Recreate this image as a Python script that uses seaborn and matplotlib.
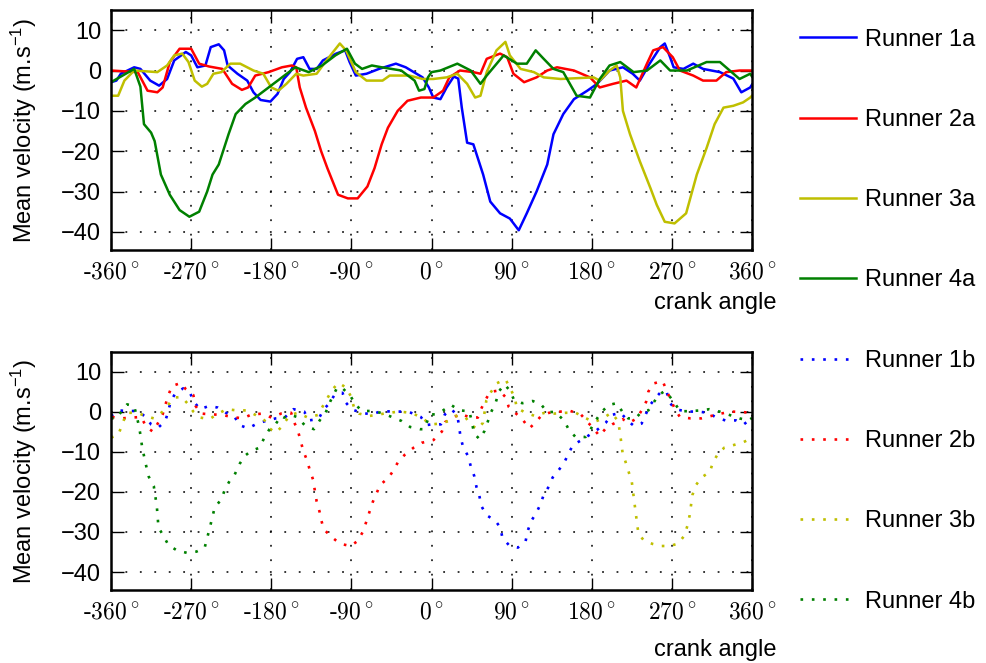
import pandas as pd
import matplotlib
matplotlib.use("Agg")
import matplotlib.pyplot as plt
import seaborn as sns

# ---------------- data ----------------
runners_a = ["Runner 1a", "Runner 2a", "Runner 3a", "Runner 4a"]
runners_b = ["Runner 1b", "Runner 2b", "Runner 3b", "Runner 4b"]
colors = ["#0000ff", "#ff0000", "#bfbf00", "#008000"]
xticks = [-360, -270, -180, -90, 0, 90, 180, 270, 360]
yticks = [-40, -30, -20, -10, 0, 10]

# top panel (solid lines)
angle_1a = [-360, -354, -349, -334, -327, -316, -306, -297, -289, -276, -270, -263, -254, -248, -239, -233,
            -229, -218, -207, -200, -192, -181, -173, -166, -159, -151, -144, -137, -129, -122, -107, -97,
            -92, -85, -73, -59, -40, -29, -10, -3, 2, 10, 17, 25, 30, 34, 40, 47, 58, 66, 77, 88, 98, 107,
            118, 130, 137, 148, 160, 175, 186, 200, 215, 226, 234, 245, 257, 262, 268, 272, 283, 294, 305,
            324, 339, 348, 358, 360]
vel_1a = [-2.9, -2.5, -0.8, 0.8, 0.4, -2.5, -3.75, -2.1, 2.5, 4.6, 3.75, 0.8, 1.25, 5.8, 6.5, 5.0,
          1.25, -0.8, -2.5, -5.4, -7.3, -7.7, -5.8, -2.1, -0.4, 2.9, 3.3, 0.4, 0.4, 2.5, 4.2, 5.0,
          2.1, -1.25, -0.8, 0.4, 1.7, 0.8, -1.7, -4.2, -6.7, -7.1, -4.2, -1.5, -2.0, -9.2, -17.9, -18.3,
          -25.8, -32.5, -35.4, -36.7, -39.6, -35.4, -30.0, -23.3, -15.8, -10.8, -7.1, -5.0, -3.3, 0.0,
          0.8, -0.8, -2.5, 1.7, 5.8, 6.7, 3.3, 0.8, 0.4, 1.7, 0.4, -0.4, -2.0, -5.4, -4.2, -3.5]

angle_2a = [-360, -330, -319, -308, -302, -294, -283, -270, -261, -250, -235, -224, -213, -206, -198, -183,
            -168, -157, -152, -148, -141, -131, -124, -117, -105, -94, -83, -72, -64, -56, -49, -38, -27,
            -12, 2, 13, 20, 32, 47, 55, 62, 77, 85, 92, 104, 118, 130, 141, 160, 178, 189, 204, 219, 230,
            242, 249, 260, 271, 279, 294, 305, 320, 331, 346, 360]
vel_2a = [0.0, -0.4, -5.0, -5.4, -4.2, 2.1, 5.4, 5.4, 1.7, 1.0, 0.4, -3.3, -4.8, -4.2, -1.25, -0.4,
          0.8, 1.25, 0.8, -4.2, -9.2, -15.0, -20.0, -24.2, -30.8, -31.7, -31.7, -28.75, -24.2, -18.3,
          -14.2, -10.0, -7.5, -6.7, -6.7, -5.0, -1.7, 0.0, -0.4, -0.8, 2.9, 4.2, 3.3, -0.8, -2.9, -1.7,
          0.0, 0.8, 0.0, -1.7, -4.2, -3.3, -2.5, -4.2, 1.7, 5.0, 5.8, 3.3, 0.0, -1.25, -2.5, -2.5,
          -0.4, 0.0, 0.0]

angle_3a = [-360, -352, -345, -334, -308, -297, -289, -280, -273, -266, -258, -252, -245, -236, -226, -215,
            -200, -189, -180, -172, -163, -152, -144, -129, -118, -103, -96, -85, -73, -55, -47, -25, -10,
            2, 17, 29, 40, 49, 55, 62, 73, 83, 88, 100, 115, 126, 145, 182, 189, 200, 208, 212, 215, 223,
            234, 246, 253, 262, 273, 286, 298, 309, 318, 328, 339, 350, 358, 360]
vel_3a = [-6.25, -6.25, -2.5, 0.0, -0.4, 1.25, 3.75, 4.2, 2.1, -2.5, -4.0, -3.3, -0.8, -0.4, 1.7, 1.7,
          0.0, -0.8, -4.2, -5.0, -3.3, -0.8, -1.25, -0.8, 2.5, 6.7, 5.0, -0.4, -2.5, -2.5, -1.25, -1.25,
          -2.1, -2.1, -1.7, -0.8, -3.3, -6.7, -6.25, -0.4, 5.0, 7.1, 3.75, 0.4, -0.4, -1.7, -2.1, -1.7,
          -2.5, 0.0, 1.25, -1.7, -10.0, -15.8, -22.5, -29.2, -33.3, -37.5, -37.9, -35.4, -25.8, -19.2,
          -13.3, -9.2, -8.75, -7.9, -6.7, -6.25]

angle_4a = [-360, -334, -327, -323, -315, -311, -304, -294, -283, -272, -261, -252, -246, -239, -228, -220,
            -209, -198, -183, -168, -153, -138, -123, -108, -95, -86, -78, -67, -56, -34, -19, -14, -8, -4,
            0, 10, 29, 44, 55, 62, 81, 96, 107, 117, 126, 137, 148, 163, 178, 189, 200, 212, 227, 242, 257,
            268, 287, 309, 324, 335, 346, 358, 360]
vel_4a = [-2.9, 0.4, -4.0, -13.3, -15.4, -17.5, -25.8, -30.8, -34.6, -36.25, -35.0, -30.0, -25.8, -23.3,
          -15.8, -10.8, -8.3, -6.7, -4.2, -1.7, 0.8, -0.4, 1.25, 3.75, 5.4, 1.7, 0.4, 1.25, 0.8, 0.0,
          -2.5, -5.0, -4.6, -1.7, -0.4, 0.0, 1.7, 0.0, -3.3, -1.25, 3.75, 1.7, 1.7, 5.0, 2.9, 0.4, -0.4,
          -6.25, -6.7, -2.1, 1.25, 2.1, -0.4, 0.0, 2.5, 0.0, 0.0, 2.1, 2.1, 0.0, -2.1, -0.8, -1.5]

# bottom panel (dotted lines)
angle_1b = [-360, -352, -342, -330, -321, -315, -307, -299, -296, -293, -288, -279, -271, -266, -260, -250,
            -240, -231, -221, -216, -206, -196, -184, -175, -165, -155, -143, -138, -127, -121, -115, -109,
            -100, -96, -90, -79, -67, -56, -45, -33, -23, -12, -5, 0, 10.5, 15, 22.6, 29, 31, 32.5, 35.5,
            41, 44, 48, 50.5, 53.6, 56, 61.6, 72, 77.3, 79.6, 87, 97, 105.6, 108, 112, 117.5, 122, 126,
            131.6, 136, 142.6, 149, 154, 159, 168.6, 177, 187, 195.7, 202, 212.6, 220, 227.5, 236, 240.6,
            245.5, 252, 258, 264, 267.6, 274, 287, 299.6, 310.8, 320, 330, 342, 350.7, 360]
vel_1b = [-1.0, 0.4, 0.25, 0.25, -1.25, -3.1, -3.9, -2.25, 0.0, 2.6, 4.6, 5.9, 4.6, 2.3, 0.7, 1.5,
          1.1, -0.2, -1.25, -3.25, -4.1, -2.9, -2.1, -1.6, -1.4, 0.7, 0.1, -2.1, -1.8, 0.7, 2.1, 4.25,
          4.8, 2.3, 0.7, -0.2, -0.6, 0.25, 0.1, 0.1, -0.2, -1.25, -3.25, -3.1, -3.1, -0.6, 0.7, -1.0,
          -3.5, -6.2, -8.75, -11.0, -13.5, -16.0, -18.75, -20.8, -23.5, -25.75, -27.25, -28.9, -31.4,
          -33.3, -33.9, -32.4, -29.75, -27.25, -25.3, -23.25, -20.75, -18.7, -16.4, -14.6, -12.7, -10.3,
          -8.25, -7.0, -5.8, -4.3, -2.7, -0.75, -0.2, -2.1, -3.5, -2.9, -0.6, 1.75, 3.6, 5.1, 5.1, 2.3,
          0.7, 0.1, 0.1, -0.2, -1.4, -2.1, -2.1, -3.1, -1.5]

angle_2b = [-359, -348, -337, -326, -320.5, -313, -307.6, -302, -296, -291.5, -281.5, -276, -267.6, -265,
            -259, -246, -235, -224, -212, -202, -189, -180, -169, -157.7, -154, -150, -147, -144, -140,
            -136.6, -132.9, -131, -129, -125.8, -123.6, -121, -113.5, -108, -101.6, -91, -83, -77, -73,
            -69.6, -66, -57.7, -48.3, -42.7, -37, -29.6, -20, -11, 2.3, 11.6, 15.4, 24, 31.5, 42, 52,
            55.6, 60, 65.6, 76, 83, 86.8, 95, 103, 109.8, 116.5, 123, 132, 145, 156, 167.7, 176, 182,
            188.6, 195, 203, 214.6, 222, 230.7, 236, 241, 243.6, 249, 259.6, 264, 268, 273.5, 279, 291,
            303, 314, 325, 336.6, 348.6, 358]
vel_2b = [-1.25, -1.6, -1.4, -1.25, -3.75, -4.9, -2.9, -0.6, 4.0, 6.5, 7.25, 5.7, 4.25, 1.5, -0.4,
          -0.6, -0.75, -1.25, -1.6, -0.6, -0.4, -1.4, -0.4, -0.2, -2.7, -4.75, -7.25, -9.75, -12.0,
          -14.6, -17.0, -19.75, -22.4, -24.9, -27.25, -29.3, -31.0, -32.0, -33.0, -33.5, -32.25, -29.9,
          -27.25, -24.9, -22.5, -18.25, -16.4, -14.6, -12.25, -10.6, -8.9, -7.7, -7.0, -4.9, -2.5, -1.6,
          -0.4, -1.25, -1.4, 0.7, 2.75, 5.0, 5.4, 3.75, 1.25, -0.4, -2.1, -4.1, -2.7, -1.0, -0.2, 0.1,
          0.25, -0.6, -2.7, -4.1, -6.0, -4.3, -3.1, -1.8, -2.7, -1.6, 0.4, 2.5, 5.1, 7.1, 7.75, 5.4,
          3.4, 0.7, -1.25, -1.6, -1.6, -1.0, -0.4, 0.1, 0.0, -0.2]

angle_3b = [-360, -352, -347.6, -342.6, -330.8, -321.4, -312, -301, -296.6, -289.8, -280.6, -274, -267.6,
            -259.5, -249.6, -239.6, -230, -219, -208, -197.6, -187.6, -182, -175, -168.6, -159, -150, -139,
            -127.7, -122, -116.6, -111, -104.4, -96, -90.8, -87, -81.4, -70, -58.8, -47.6, -36.4, -23.3,
            -12, -1, 10, 19, 26.5, 38, 43.5, 51.8, 57.8, 61.6, 66.8, 73.5, 83, 88, 93.8, 95.6, 104, 116,
            127, 138, 151, 162, 172, 182, 191, 202, 209.6, 211.4, 213, 214.6, 218, 225, 228, 229.5, 231,
            232.4, 239, 248.6, 257.6, 267.6, 277, 283.7, 287.4, 290, 293, 297, 303, 312.6, 316, 321.8,
            329, 339.6, 350.8, 360]
vel_3b = [-6.4, -5.75, -3.25, -0.2, -0.2, -1.0, -1.6, 0.25, 1.5, 3.6, 3.75, 2.1, 0.1, -1.4, -1.8,
          -0.4, 0.7, 0.4, 0.4, -0.75, -2.1, -4.1, -5.2, -3.75, -0.75, -0.2, -1.4, -0.75, 1.5, 3.6, 5.7,
          7.3, 6.1, 4.0, 1.1, -0.4, -1.0, -0.6, -0.2, 0.1, -0.2, -1.25, -3.1, -2.9, -2.25, -1.0, -1.25,
          -3.1, -4.3, -2.7, 2.9, 5.0, 7.2, 8.2, 6.1, 3.4, 1.1, 0.0, -1.0, -0.2, -0.4, -0.2, -0.2, -1.4,
          -2.5, -1.8, -0.2, -2.25, -4.75, -7.4, -10.2, -12.5, -17.5, -22.8, -25.4, -28.0, -30.4, -32.25,
          -33.0, -33.5, -33.5, -32.9, -31.0, -28.5, -25.8, -20.8, -18.3, -16.4, -15.0, -12.7, -10.4,
          -8.9, -8.25, -7.5, -6.5]

angle_4b = [-360, -355, -342, -334, -328.6, -326.8, -325, -320.5, -317.6, -312, -308.6, -306.7, -301,
            -295.6, -286, -275, -264, -254.8, -249, -243.6, -236, -232, -226.8, -221, -215.6, -210,
            -202.6, -193, -187.8, -182, -174.7, -169, -165.6, -158, -151, -141.6, -132, -124.7, -119,
            -113.5, -106, -100.7, -91, -85.7, -78, -65, -54, -33.6, -24, -13, -8, -2, 4, 13, 22, 31.5,
            42.6, 48, 54, 59.5, 67, 72, 76, 82, 87.8, 93, 102, 113.6, 123, 130, 139, 148.7, 154, 161.7,
            173, 178, 184, 191, 199, 208, 214, 221, 229, 236, 243.6, 249, 255, 262, 268, 273, 279, 288,
            303, 312, 323.6, 334.8, 346, 356, 360]
vel_4b = [-1.5, -1.8, 1.9, 1.5, -3.5, -6.0, -8.9, -13.5, -16.2, -18.5, -23.5, -28.9, -31.0, -33.25,
          -34.6, -35.2, -34.9, -33.9, -28.9, -23.9, -21.8, -19.3, -17.25, -15.6, -13.0, -11.0, -9.75,
          -8.9, -6.4, -4.3, -2.9, -1.0, -1.4, -0.75, -1.25, -3.5, -4.3, -1.8, -0.2, 2.75, 6.1, 6.1, 4.0,
          1.9, 0.25, 0.25, -0.4, -2.25, -3.75, -4.3, -4.3, -0.6, -0.6, 0.4, 1.75, 0.4, 0.2, -5.4, -6.8,
          -4.75, 0.0, 2.3, 5.25, 6.9, 5.4, 2.9, 2.2, 2.75, 1.9, 0.0, 0.0, -2.1, -4.3, -6.25, -6.25,
          -4.6, -2.25, 0.0, 1.75, 2.2, 0.2, -1.6, -1.6, 0.0, 0.4, 2.2, 4.2, 5.25, 3.75, 2.3, 0.2, 0.2,
          0.4, 0.7, 0.1, -0.75, -1.6, -2.1, -1.5]


def long_frame(names, angles, vels):
    parts = []
    for name, a, v in zip(names, angles, vels):
        parts.append(pd.DataFrame({"angle": a, "velocity": v, "runner": name}))
    return pd.concat(parts, ignore_index=True)


df_a = long_frame(runners_a, [angle_1a, angle_2a, angle_3a, angle_4a], [vel_1a, vel_2a, vel_3a, vel_4a])
df_b = long_frame(runners_b, [angle_1b, angle_2b, angle_3b, angle_4b], [vel_1b, vel_2b, vel_3b, vel_4b])

# ---------------- style ----------------
plt.rcParams["font.family"] = ["Liberation Sans", "DejaVu Sans"]
plt.rcParams["mathtext.fontset"] = "custom"
plt.rcParams["mathtext.rm"] = "Liberation Sans"
plt.rcParams["mathtext.it"] = "Liberation Sans:italic"
plt.rcParams["mathtext.bf"] = "Liberation Sans:bold"

fig = plt.figure(figsize=(9.87, 6.63), dpi=100)
ax_a = fig.add_axes([0.1125, 0.6229, 0.6494, 0.362])
ax_b = fig.add_axes([0.1125, 0.1101, 0.6494, 0.359])

sns.lineplot(data=df_a, x="angle", y="velocity", hue="runner", hue_order=runners_a,
             palette=colors, estimator=None, sort=False, lw=1.8, legend=False, ax=ax_a)
sns.lineplot(data=df_b, x="angle", y="velocity", hue="runner", hue_order=runners_b,
             palette=colors, estimator=None, sort=False, lw=1.9, legend=False, ax=ax_b)
for line in ax_b.get_lines():
    line.set_linestyle((0, (1, 3.3)))

for ax in (ax_a, ax_b):
    ax.set_xlim(-360, 360)
    ax.set_ylim(-44.5, 15)
    ax.set_xticks(xticks)
    ax.set_xticklabels([f"{t}$^\\circ$" for t in xticks], fontfamily="cmr10",
                       math_fontfamily="cm", fontsize=17)
    ax.set_yticks(yticks)
    ax.tick_params(axis="y", labelsize=17, pad=7)
    ax.tick_params(axis="x", pad=8)
    ax.tick_params(direction="in", top=True, right=True, length=9, width=1)
    ax.grid(True, color="k", linestyle=(0, (1, 7)), lw=1.3, alpha=0.85)
    for sp in ax.spines.values():
        sp.set_linewidth(1.8)
    ax.set_xlabel("")
    ax.set_ylabel("Mean velocity (m.s$^{-1}$)", fontsize=17)
    ax.yaxis.set_label_coords(-0.112, 0.5)

fig.text(777 / 987, 1 - 303 / 663, "crank angle", ha="right", va="center", fontsize=17)
fig.text(777 / 987, 1 - 650 / 663, "crank angle", ha="right", va="center", fontsize=17)

handles = ax_a.get_lines()[:4] + ax_b.get_lines()[:4]
fig.legend(handles, runners_a + runners_b, loc="upper left", bbox_to_anchor=(0.8105, 0.957),
           frameon=False, fontsize=17, handlelength=2.37, handletextpad=0.38,
           labelspacing=2.47, borderpad=0, borderaxespad=0)

fig.savefig("out.png", dpi=100)
